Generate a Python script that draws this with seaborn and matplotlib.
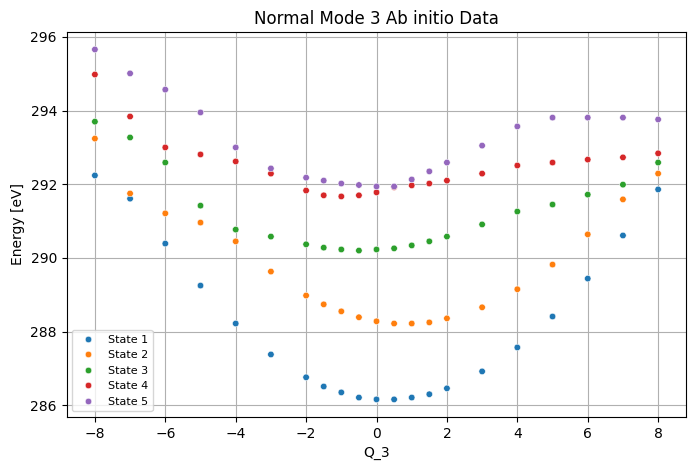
import pandas as pd
import numpy as np
import matplotlib
matplotlib.use("Agg")
import matplotlib.pyplot as plt
import seaborn as sns

# DATA
q3 = [-8, -7, -6, -5, -4, -3, -2, -1.5, -1, -0.5, 0, 0.5, 1, 1.5, 2, 3, 4, 5, 6, 7, 8]

state1 = [292.24, 291.61, 290.39, 289.25, 288.22, 287.38, 286.76, 286.51, 286.35, 286.21, 286.16,
          286.16, 286.21, 286.30, 286.46, 286.92, 287.57, 288.41, 289.44, 290.61, 291.86]
state2 = [293.24, 291.75, 291.21, 290.96, 290.45, 289.63, 288.98, 288.74, 288.55, 288.39, 288.28,
          288.22, 288.22, 288.25, 288.36, 288.66, 289.15, 289.82, 290.64, 291.59, 292.29]
state3 = [293.70, 293.27, 292.59, 291.42, 290.77, 290.58, 290.37, 290.28, 290.23, 290.20, 290.23,
          290.26, 290.34, 290.45, 290.58, 290.91, 291.26, 291.45, 291.72, 291.99, 292.59]
state4 = [294.98, 293.84, 293.00, 292.81, 292.62, 292.29, 291.83, 291.70, 291.67, 291.70, 291.78,
          291.92, 291.97, 292.02, 292.10, 292.29, 292.51, 292.59, 292.67, 292.73, 292.84]
state5 = [295.66, 295.01, 294.57, 293.95, 293.00, 292.43, 292.18, 292.10, 292.02, 291.98, 291.94,
          291.94, 292.13, 292.35, 292.59, 293.05, 293.57, 293.81, 293.81, 293.81, 293.76]

states = {"State 1": state1, "State 2": state2, "State 3": state3,
          "State 4": state4, "State 5": state5}

df = pd.concat([pd.DataFrame({"Q_3": q3, "Energy": vals, "State": name})
                for name, vals in states.items()], ignore_index=True)

# PLOT
fig, ax = plt.subplots(figsize=(6.95, 4.7), dpi=100)
sns.scatterplot(data=df, x="Q_3", y="Energy", hue="State", palette="tab10", s=22, ax=ax)
ax.set_title("Normal Mode 3 Ab initio Data")
ax.set_xlabel("Q_3")
ax.set_ylabel("Energy [eV]")
ax.grid(True)
ax.set_axisbelow(True)
ax.legend(loc="lower left", fontsize=8)
plt.subplots_adjust(left=0.096, right=0.9875, top=0.932, bottom=0.113)
plt.savefig("out.png")
plt.close()
